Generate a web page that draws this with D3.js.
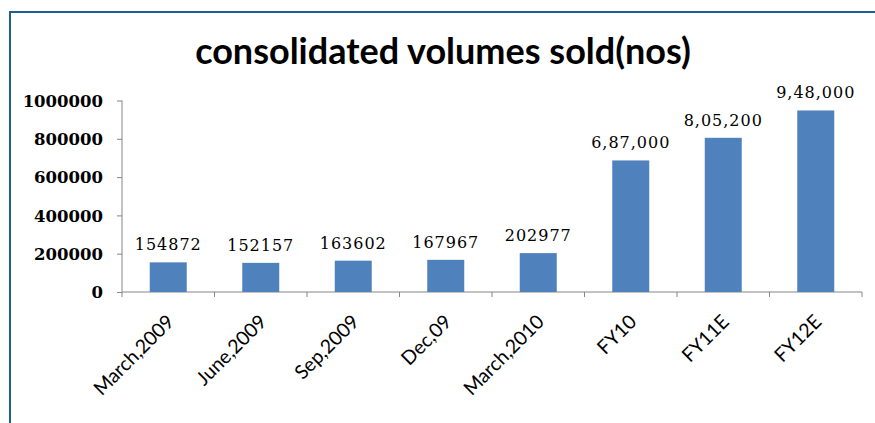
<!DOCTYPE html>
<html><head><meta charset="utf-8">
<script src="https://cdn.jsdelivr.net/npm/d3@7"></script>
<style>body{margin:0;background:#fff}svg{display:block}</style>
</head><body>
<svg id="c" width="875" height="423"></svg>
<script>
const categories = ["March,2009","June,2009","Sep,2009","Dec,09","March,2010","FY10","FY11E","FY12E"];
const values = [154872,152157,163602,167967,202977,687000,805200,948000];
const valueLabels = ["154872","152157","163602","167967","202977","6,87,000","8,05,200","9,48,000"];
const yTicks = [0,200000,400000,600000,800000,1000000];
const title = "consolidated volumes sold(nos)";

const svg = d3.select("#c");
// frame
svg.append("path").attr("d","M10,423 L10,12 L875,12").attr("fill","none").attr("stroke","#1f5f8f").attr("stroke-width",2);

svg.append("text").attr("x",443).attr("y",64).attr("text-anchor","middle")
  .attr("font-family","Lato, 'Open Sans', sans-serif").attr("font-weight","bold").attr("font-size",36)
  .attr("fill","#000").text(title);

const x = d3.scaleBand().domain(categories).range([122,862]).padding(0);
const y = d3.scaleLinear().domain([0,1000000]).range([292,100.5]);

const gy = svg.append("g").attr("transform","translate(122,0)")
  .call(d3.axisLeft(y).tickValues(yTicks).tickSize(5).tickPadding(14).tickFormat(d3.format("d")));
gy.select(".domain").attr("stroke","#868686").attr("d","M0,100.5V292");
gy.selectAll(".tick line").attr("stroke","#868686");
gy.selectAll(".tick text").attr("font-family","'DejaVu Serif', serif").attr("font-weight","bold")
  .attr("font-size",16.5).attr("fill","#000").attr("dy","0.35em");

// x axis
const gx = svg.append("g").attr("transform","translate(0,292)");
gx.append("line").attr("x1",122).attr("x2",862).attr("stroke","#868686");
const bounds = categories.map(c=>x(c)).concat([x(categories[categories.length-1])+x.bandwidth()]);
gx.selectAll("line.t").data(bounds).join("line").attr("class","t")
  .attr("x1",d=>d).attr("x2",d=>d).attr("y1",0).attr("y2",5).attr("stroke","#868686");

const bw = x.bandwidth()*0.4;
svg.selectAll("rect.bar").data(values).join("rect").attr("class","bar")
  .attr("x",(d,i)=>x(categories[i])+x.bandwidth()/2-bw/2)
  .attr("width",bw).attr("y",d=>y(d)).attr("height",d=>y(0)-y(d)).attr("fill","#4f81bd");

svg.selectAll("text.vl").data(values).join("text").attr("class","vl")
  .attr("x",(d,i)=>x(categories[i])+x.bandwidth()/2).attr("y",d=>y(d)-12)
  .attr("text-anchor","middle").attr("font-family","'DejaVu Serif', serif").attr("font-size",16)
  .attr("letter-spacing",1).attr("fill","#000").text((d,i)=>valueLabels[i]);

svg.selectAll("text.cl").data(categories).join("text").attr("class","cl")
  .attr("transform",c=>`translate(${x(c)+x.bandwidth()/2+7},${323}) rotate(-45)`)
  .attr("text-anchor","end").attr("font-family","Lato, 'Open Sans', sans-serif").attr("font-size",19.5)
  .attr("fill","#000").text(c=>c);
</script>
</body></html>
